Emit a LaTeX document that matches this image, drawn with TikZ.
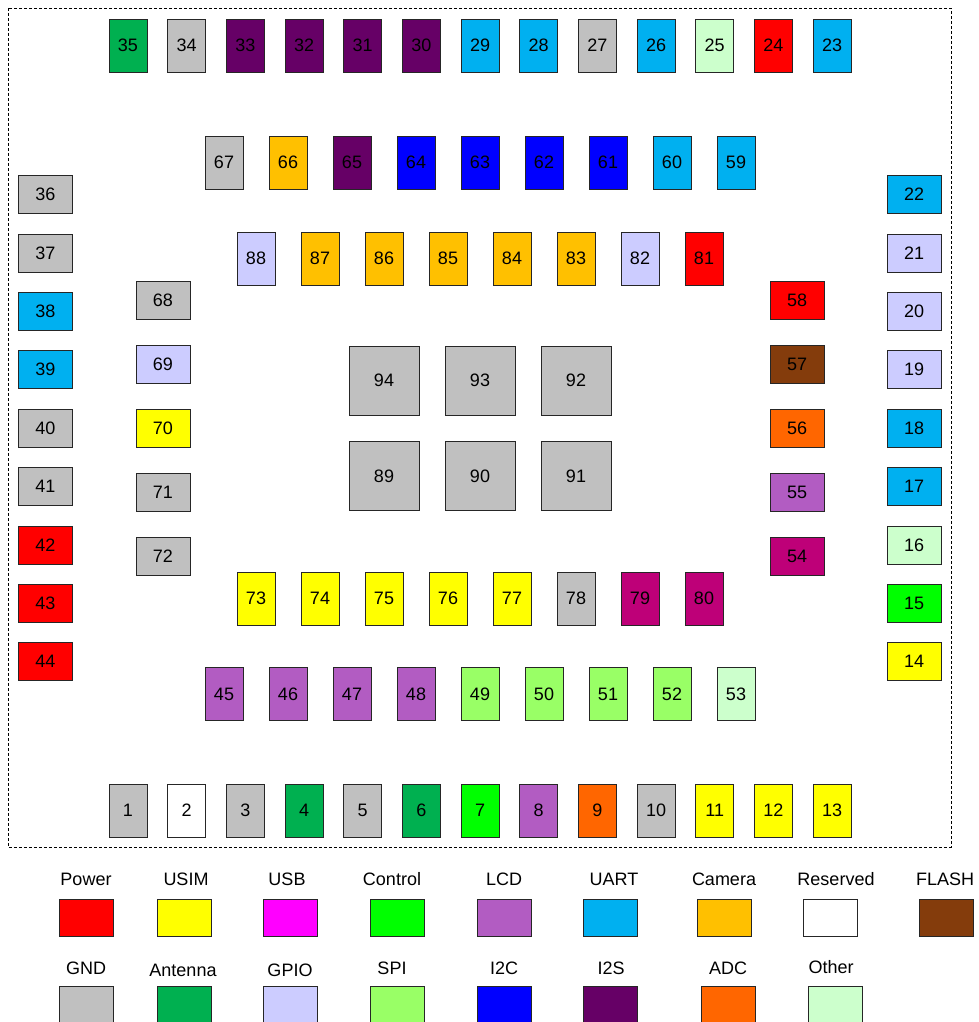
\documentclass[tikz,border=0pt]{standalone}
\usepackage{fontspec}
\setmainfont{Liberation Sans}
\usepackage{tikz}

\definecolor{cpower}{HTML}{FF0000}
\definecolor{cusim}{HTML}{FFFF00}
\definecolor{cusb}{HTML}{FF00FF}
\definecolor{cctrl}{HTML}{00FF00}
\definecolor{clcd}{HTML}{B25CC2}
\definecolor{cuart}{HTML}{00B0F0}
\definecolor{ccam}{HTML}{FFC000}
\definecolor{cres}{HTML}{FFFFFF}
\definecolor{cflash}{HTML}{843C0C}
\definecolor{cgnd}{HTML}{C0C0C0}
\definecolor{cant}{HTML}{00B050}
\definecolor{cgpio}{HTML}{CCCCFF}
\definecolor{cspi}{HTML}{99FF66}
\definecolor{ci2c}{HTML}{0000FF}
\definecolor{ci2s}{HTML}{660066}
\definecolor{cadc}{HTML}{FF6600}
\definecolor{coth}{HTML}{CCFFCC}
\definecolor{cpink}{HTML}{BE0078}

\begin{document}
\begin{tikzpicture}[x=1pt,y=-1pt,
    pin/.style={draw=black!85, line width=0.8pt, inner sep=0pt,
      minimum width=38pt, minimum height=53pt, font=\fontsize{18}{20}\selectfont},
    pinh/.style={pin, minimum width=54pt, minimum height=38pt},
    pad/.style={pin, minimum width=70pt, minimum height=69pt},
    key/.style={pin, minimum width=54pt, minimum height=37pt},
    keytext/.style={inner sep=0pt, font=\fontsize{18}{20}\selectfont}]

      \useasboundingbox (0,0) rectangle (979,1022);

      % module outline
      \draw[dash pattern=on 3pt off 2pt, line width=0.7pt] (8,8) rectangle (951,847);

      % outer top row
      \foreach \n/\c [count=\k from 0] in {35/cant,34/cgnd,33/ci2s,32/ci2s,31/ci2s,30/ci2s,
          29/cuart,28/cuart,27/cgnd,26/cuart,25/coth,24/cpower,23/cuart}
        \node[pin, fill=\c] (p\n) at (128+58.67*\k, 45.5) {\n};

      % outer bottom row
      \foreach \n/\c [count=\k from 0] in {1/cgnd,2/cres,3/cgnd,4/cant,5/cgnd,6/cant,7/cctrl,
          8/clcd,9/cadc,10/cgnd,11/cusim,12/cusim,13/cusim}
        \node[pin, fill=\c] (p\n) at (128+58.67*\k, 810.5) {\n};

      % outer left and right columns
      \foreach \n/\c [count=\k from 0] in {36/cgnd,37/cgnd,38/cuart,39/cuart,40/cgnd,41/cgnd,
          42/cpower,43/cpower,44/cpower}
        \node[pinh, fill=\c] (p\n) at (45.5, 194.5+58.4*\k) {\n};
      \foreach \n/\c [count=\k from 0] in {22/cuart,21/cgpio,20/cgpio,19/cgpio,18/cuart,17/cuart,
          16/coth,15/cctrl,14/cusim}
        \node[pinh, fill=\c] (p\n) at (914, 194.5+58.4*\k) {\n};

      % second ring
      \foreach \n/\c [count=\k from 0] in {67/cgnd,66/ccam,65/ci2s,64/ci2c,63/ci2c,62/ci2c,
          61/ci2c,60/cuart,59/cuart}
        \node[pin, fill=\c] (p\n) at (224+64*\k, 162.5) {\n};
      \foreach \n/\c [count=\k from 0] in {45/clcd,46/clcd,47/clcd,48/clcd,49/cspi,50/cspi,
          51/cspi,52/cspi,53/coth}
        \node[pin, fill=\c] (p\n) at (224+64*\k, 694) {\n};
      \foreach \n/\c [count=\k from 0] in {68/cgnd,69/cgpio,70/cusim,71/cgnd,72/cgnd}
        \node[pinh, fill=\c] (p\n) at (163, 300.5+64*\k) {\n};
      \foreach \n/\c [count=\k from 0] in {58/cpower,57/cflash,56/cadc,55/clcd,54/cpink}
        \node[pinh, fill=\c] (p\n) at (797, 300.5+64*\k) {\n};

      % third ring
      \foreach \n/\c [count=\k from 0] in {88/cgpio,87/ccam,86/ccam,85/ccam,84/ccam,83/ccam,
          82/cgpio,81/cpower}
        \node[pin, fill=\c] (p\n) at (256+64*\k, 258.5) {\n};
      \foreach \n/\c [count=\k from 0] in {73/cusim,74/cusim,75/cusim,76/cusim,77/cusim,
          78/cgnd,79/cpink,80/cpink}
        \node[pin, fill=\c] (p\n) at (256+64*\k, 598.5) {\n};

      % ground pads
      \foreach \n [count=\k from 0] in {94,93,92}
        \node[pad, fill=cgnd] (p\n) at (384+96*\k, 380.5) {\n};
      \foreach \n [count=\k from 0] in {89,90,91}
        \node[pad, fill=cgnd] (p\n) at (384+96*\k, 476) {\n};

      % legend
      \foreach \t/\c/\bx/\tx in {Power/cpower/86.5/86,USIM/cusim/184/186,USB/cusb/290.5/287,
          Control/cctrl/397/392,LCD/clcd/504/504,UART/cuart/610/614,Camera/ccam/724/724,
          Reserved/cres/830/836,FLASH/cflash/946/945}
      {
        \node[key, fill=\c] (key\t) at (\bx, 917.5) {};
        \node[keytext] (lbl\t) at (\tx, 879) {\t};
      }
      \foreach \t/\c/\bx/\tx/\ty in {GND/cgnd/86.5/86/968,Antenna/cant/184/183/970,
          GPIO/cgpio/290.5/290/970,SPI/cspi/397/392/968,I2C/ci2c/504/504/968,
          I2S/ci2s/610/611/968,ADC/cadc/728/728/968,Other/coth/835/831/967}
      {
        \node[key, fill=\c] (key\t) at (\bx, 1004.5) {};
        \node[keytext] (lbl\t) at (\tx, \ty) {\t};
      }

\end{tikzpicture}
\end{document}
